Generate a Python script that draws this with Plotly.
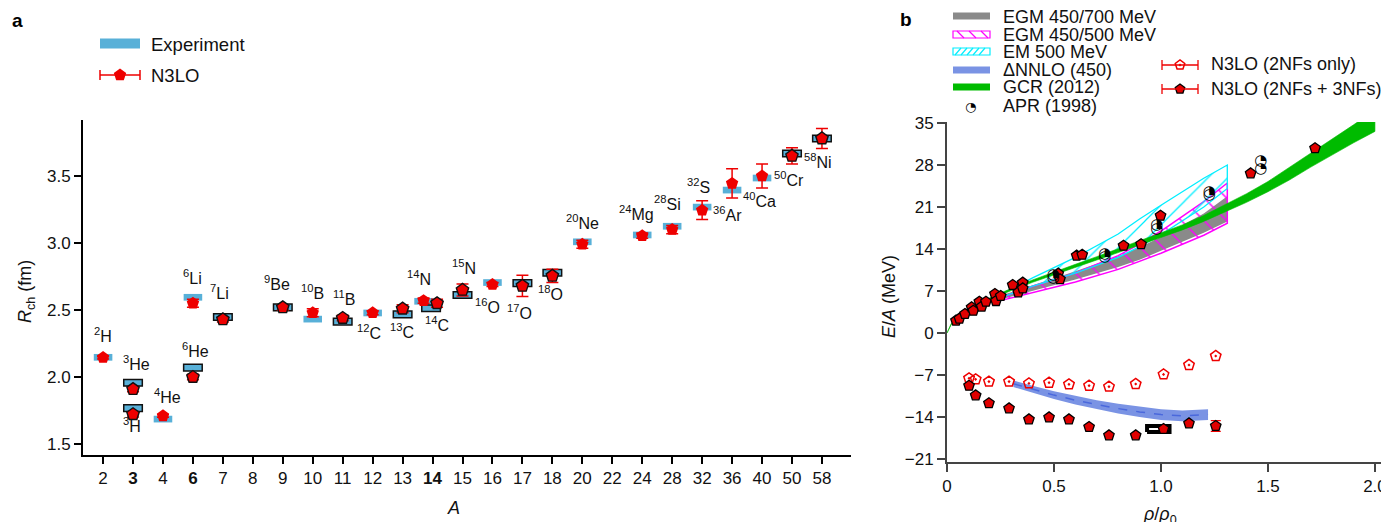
import plotly.graph_objects as go

# viewport size and the page's default body margin (the figure div starts at 8,8)
VW, VH = 1389, 522
OFF = 8
FW, FH = VW - OFF, VH - OFF
FONT = "Liberation Sans, Arial, Helvetica, sans-serif"

# ---------------- Panel a: charge radii ----------------
A_ticks = ["2", "3", "4", "6", "7", "8", "9", "10", "11", "12", "13", "14", "15",
           "16", "17", "18", "20", "22", "24", "28", "32", "36", "40", "50", "58"]
A_bold = ["3", "6", "14"]

nuc_A = ["2", "3", "3", "4", "6", "6", "7", "9", "10", "11", "12", "13", "14", "14",
         "15", "16", "17", "18", "20", "24", "28", "32", "36", "40", "50", "58"]
nuc_sym = ["H", "He", "H", "He", "He", "Li", "Li", "Be", "B", "B", "C", "C", "N", "C",
           "N", "O", "O", "O", "Ne", "Mg", "Si", "S", "Ar", "Ca", "Cr", "Ni"]
exp_radius = [2.147, 1.957, 1.768, 1.686, 2.070, 2.595, 2.448, 2.520, 2.432, 2.414,
              2.478, 2.468, 2.565, 2.513, 2.612, 2.705, 2.700, 2.778, 3.009, 3.060,
              3.125, 3.268, 3.395, 3.485, 3.668, 3.780]
n3lo_radius = [2.145, 1.910, 1.722, 1.710, 2.000, 2.550, 2.430, 2.520, 2.480, 2.440,
               2.480, 2.510, 2.570, 2.550, 2.650, 2.690, 2.680, 2.755, 2.990, 3.055,
               3.100, 3.245, 3.445, 3.500, 3.650, 3.780]
n3lo_err = [0.01, 0.02, 0.02, 0.01, 0.02, 0.03, 0.02, 0.02, 0.03, 0.02, 0.015, 0.03,
            0.02, 0.03, 0.045, 0.015, 0.08, 0.05, 0.03, 0.02, 0.03, 0.07, 0.11, 0.09,
            0.06, 0.075]
# nuclei drawn with a black edge
outlined = [0, 1, 1, 0, 1, 0, 1, 1, 0, 1, 0, 1, 0, 1, 1, 0, 1, 1, 0, 0, 0, 0, 0, 0, 1, 1]
# small horizontal offsets for nuclei sharing A = 14
shift_exp = {"14N": -0.30, "14C": -0.05}
shift_th = {"14N": -0.30, "14C": 0.15}
# label anchor positions (category index, fm)
label_x = [0.0, 1.13, 0.97, 2.14, 3.07, 2.97, 3.90, 5.81, 6.98, 8.04, 8.88, 9.98, 10.55,
           11.15, 12.05, 12.85, 13.89, 14.95, 15.99, 17.82, 18.86, 19.89, 20.86, 21.93,
           22.90, 23.86]
label_y = [2.313, 2.104, 1.642, 1.858, 2.201, 2.746, 2.634, 2.700, 2.634, 2.590, 2.336,
           2.343, 2.739, 2.396, 2.821, 2.530, 2.485, 2.627, 3.157, 3.224, 3.300, 3.425,
           3.216, 3.321, 3.478, 3.612]

# ---------------- Panel b: equation of state ----------------
gcr_rho = [0, 0.02, 0.05, 0.1, 0.2, 0.3, 0.4, 0.5, 0.6, 0.7, 0.8, 0.9, 1.0, 1.1, 1.2,
           1.3, 1.4, 1.5, 1.6, 1.7, 1.8, 1.9, 2.0]
gcr_lo = [0, 1.42, 2.4, 3.73, 5.55, 7.07, 8.45, 9.73, 10.95, 12.17, 13.4, 14.67, 15.93,
          17.18, 18.6, 20.2, 21.78, 23.55, 25.5, 27.65, 29.7, 31.7, 33.6]
gcr_hi = [0, 1.58, 2.6, 3.97, 5.85, 7.43, 8.85, 10.17, 11.45, 12.73, 14.0, 15.33, 16.67,
          18.02, 19.6, 21.4, 23.22, 25.25, 27.5, 29.95, 32.3, 34.7, 37.2]

band_rho = [0.25, 0.4, 0.6, 0.8, 0.9, 1.0, 1.2, 1.31]
egm700_lo = [5.6, 7.0, 8.9, 11.0, 12.2, 13.7, 16.7, 18.6]
egm700_hi = [6.2, 8.0, 10.3, 12.8, 14.3, 16.0, 19.9, 22.8]
egm500_lo = [5.4, 6.7, 8.5, 10.6, 11.9, 13.3, 16.3, 18.3]
egm500_hi = [5.9, 7.8, 10.0, 12.9, 14.8, 17.0, 21.9, 25.0]
em500_lo = [5.9, 7.8, 10.0, 12.6, 14.4, 16.4, 21.0, 24.1]
em500_hi = [6.4, 9.2, 12.6, 16.5, 19.0, 21.3, 25.8, 28.0]

dnnlo_rho = [0.31, 0.4, 0.5, 0.6, 0.7, 0.8, 0.9, 1.0, 1.1, 1.22]
dnnlo_lo = [-9.0, -10.0, -11.0, -11.9, -12.7, -13.4, -14.0, -14.5, -14.7, -14.5]
dnnlo_hi = [-7.9, -8.8, -9.7, -10.5, -11.2, -11.8, -12.3, -12.7, -12.9, -12.7]

apr_rho = [0.497, 0.738, 0.980, 1.226, 1.467]
apr_E_a = [9.10, 12.60, 17.30, 22.90, 27.30]
apr_E_b = [9.55, 13.10, 18.00, 23.40, 28.70]

pnm_rho = [0.042, 0.058, 0.084, 0.115, 0.123, 0.151, 0.162, 0.182, 0.224, 0.229, 0.251,
           0.307, 0.333, 0.354, 0.354, 0.520, 0.528, 0.606, 0.632, 0.825, 0.907, 0.998,
           1.419, 1.720]
pnm_E = [2.06, 2.40, 3.17, 4.28, 3.72, 5.20, 4.39, 5.22, 6.50, 5.33, 6.17, 8.00, 6.78,
         8.39, 7.44, 9.90, 8.96, 12.90, 13.05, 14.55, 14.80, 19.55, 26.60, 30.80]

snm_rho = [0.103, 0.134, 0.196, 0.290, 0.383, 0.477, 0.570, 0.664, 0.757, 0.882, 1.012,
           1.131, 1.256]
snm_E_full = [-8.78, -10.40, -11.70, -12.56, -14.40, -14.06, -14.40, -15.67, -17.06,
              -17.06, -16.00, -15.06, -15.50]
snm_err_full = [0, 0, 0, 0, 0, 0, 0, 0, 0, 0, 0, 0, 0.9]
snm_E_2nf = [-7.56, -7.72, -8.10, -8.10, -8.40, -8.28, -8.56, -8.78, -8.94, -8.50,
             -6.90, -5.33, -3.83]

sat_rho = [0.935, 1.04]
sat_E = [-16.5, -15.5]

# ---------------- helpers (screen pixel -> figure fraction) ----------------
def fx(p):
    return (p - OFF) / FW

def fy(p):
    return 1 - (p - OFF) / FH

# ---------------- build ----------------
fig = go.Figure()

cat_index = {a: i for i, a in enumerate(A_ticks)}
names = [a + s for a, s in zip(nuc_A, nuc_sym)]
x_exp = [cat_index[a] + shift_exp.get(n, 0) for a, n in zip(nuc_A, names)]
x_th = [cat_index[a] + shift_th.get(n, 0) for a, n in zip(nuc_A, names)]

BOX_H = 0.05
BLUE = "#58b0d8"
RED = "#ee0000"

order = sorted(range(len(names)), key=lambda i: outlined[i])
fig.add_trace(go.Bar(
    x=[x_exp[i] for i in order],
    y=[BOX_H] * len(order),
    base=[exp_radius[i] - BOX_H / 2 for i in order],
    width=0.62,
    marker=dict(color=BLUE,
                line=dict(color=["#111111" if outlined[i] else BLUE for i in order],
                          width=[1.5 if outlined[i] else 0 for i in order])),
    xaxis="x", yaxis="y", showlegend=False, name="Experiment"))

fig.add_trace(go.Scatter(
    x=[x_th[i] for i in order], y=[n3lo_radius[i] for i in order],
    mode="markers",
    marker=dict(symbol="pentagon", size=13, color=RED,
                line=dict(color="#111111",
                          width=[1.4 if outlined[i] else 0 for i in order])),
    error_y=dict(type="data", array=[n3lo_err[i] for i in order],
                 color=RED, thickness=1.5, width=6),
    xaxis="x", yaxis="y", showlegend=False, name="N3LO"))

annotations = []
for lx, ly, a, s in zip(label_x, label_y, nuc_A, nuc_sym):
    annotations.append(dict(x=lx, y=ly, xref="x", yref="y", showarrow=False,
                            text=f"<sup>{a}</sup>{s}",
                            font=dict(family=FONT, size=16, color="#111111"),
                            xanchor="center", yanchor="middle"))

# ---- panel b bands
def band(rho, lo, hi):
    return list(rho) + list(rho)[::-1], list(lo) + list(hi)[::-1]

bx, by = band(band_rho, egm700_lo, egm700_hi)
fig.add_trace(go.Scatter(x=bx, y=by, fill="toself", fillcolor="#8a8a8a",
                         line=dict(width=0), mode="lines", xaxis="x2", yaxis="y2",
                         showlegend=False, hoverinfo="skip", name="EGM 450/700 MeV"))
bx, by = band(band_rho, egm500_lo, egm500_hi)
fig.add_trace(go.Scatter(x=bx, y=by, fill="toself", fillcolor="rgba(0,0,0,0)",
                         fillpattern=dict(shape="\\", fgcolor="#ff00ff",
                                          bgcolor="rgba(0,0,0,0)", size=16,
                                          solidity=0.09),
                         line=dict(width=1.5, color="#ff00ff"), mode="lines",
                         xaxis="x2", yaxis="y2", showlegend=False, hoverinfo="skip",
                         name="EGM 450/500 MeV"))
bx, by = band(band_rho, em500_lo, em500_hi)
fig.add_trace(go.Scatter(x=bx, y=by, fill="toself", fillcolor="rgba(0,0,0,0)",
                         fillpattern=dict(shape="/", fgcolor="#00eeff",
                                          bgcolor="rgba(0,0,0,0)", size=14,
                                          solidity=0.09),
                         line=dict(width=1.3, color="#00eeff"), mode="lines",
                         xaxis="x2", yaxis="y2", showlegend=False, hoverinfo="skip",
                         name="EM 500 MeV"))
bx, by = band(gcr_rho, gcr_lo, gcr_hi)
fig.add_trace(go.Scatter(x=bx, y=by, fill="toself", fillcolor="#00bb00",
                         line=dict(width=0.6, color="#00bb00"), mode="lines",
                         xaxis="x2", yaxis="y2", showlegend=False, hoverinfo="skip",
                         name="GCR (2012)"))
bx, by = band(dnnlo_rho, dnnlo_lo, dnnlo_hi)
fig.add_trace(go.Scatter(x=bx, y=by, fill="toself", fillcolor="#7a93e4",
                         line=dict(width=0), mode="lines",
                         xaxis="x2", yaxis="y2", showlegend=False, hoverinfo="skip",
                         name="\u0394NNLO (450)"))
fig.add_trace(go.Scatter(x=dnnlo_rho,
                         y=[(a + b) / 2 for a, b in zip(dnnlo_lo, dnnlo_hi)],
                         mode="lines", line=dict(color="#4a68dc", width=1.5, dash="dash"),
                         xaxis="x2", yaxis="y2", showlegend=False, hoverinfo="skip"))

# saturation box
fig.add_trace(go.Scatter(
    x=[sat_rho[0], sat_rho[1], sat_rho[1], sat_rho[0], sat_rho[0]],
    y=[sat_E[0], sat_E[0], sat_E[1], sat_E[1], sat_E[0]],
    fill="toself", fillcolor="white", mode="lines",
    line=dict(color="black", width=4), xaxis="x2", yaxis="y2",
    showlegend=False, hoverinfo="skip"))

# neutron matter N3LO
fig.add_trace(go.Scatter(x=pnm_rho, y=pnm_E, mode="markers",
                         marker=dict(symbol="pentagon", size=11, color="#e00000",
                                     line=dict(color="black", width=1.3)),
                         xaxis="x2", yaxis="y2", showlegend=False))
# APR
for e in (apr_E_a, apr_E_b):
    fig.add_trace(go.Scatter(x=apr_rho, y=e, mode="text", text=["\u25D4"] * len(apr_rho),
                             textfont=dict(family="DejaVu Sans", size=15, color="black"),
                             textposition="middle center",
                             xaxis="x2", yaxis="y2", showlegend=False, name="APR (1998)"))
# symmetric matter
fig.add_trace(go.Scatter(x=snm_rho, y=snm_E_2nf, mode="markers",
                         marker=dict(symbol="pentagon-open-dot", size=11, color="#ee0000",
                                     line=dict(width=1.5)),
                         xaxis="x2", yaxis="y2", showlegend=False,
                         name="N3LO (2NFs only)"))
fig.add_trace(go.Scatter(x=snm_rho, y=snm_E_full, mode="markers",
                         marker=dict(symbol="pentagon", size=11, color="#e00000",
                                     line=dict(color="black", width=1.3)),
                         error_y=dict(type="data", array=snm_err_full, color="#ee0000",
                                      thickness=1.3, width=5),
                         xaxis="x2", yaxis="y2", showlegend=False,
                         name="N3LO (2NFs + 3NFs)"))

# ---- legend glyphs (screen-pixel overlay axis)
shapes = []

def rect(x0, y0, x1, y1, fill, line_color=None, lw=0):
    shapes.append(dict(type="rect", xref="x3", yref="y3", x0=x0, y0=y0, x1=x1, y1=y1,
                       fillcolor=fill, line=dict(color=line_color or fill, width=lw)))

def seg(x0, y0, x1, y1, color, lw=1.3):
    shapes.append(dict(type="line", xref="x3", yref="y3", x0=x0, y0=y0, x1=x1, y1=y1,
                       line=dict(color=color, width=lw)))

def label(x, y, text, size=18, **kw):
    d = dict(x=x, y=y, xref="x3", yref="y3", showarrow=False, text=text,
             font=dict(family=FONT, size=size, color="#111111"),
             xanchor="left", yanchor="middle", borderpad=0)
    d.update(kw)
    annotations.append(d)

# panel a legend
rect(100, 38.5, 140, 48.5, BLUE)
label(150, 44, "Experiment", size=18.5)
seg(100, 75, 140, 75, RED, 1.5)
seg(100, 70, 100, 80, RED, 1.5)
seg(140, 70, 140, 80, RED, 1.5)
label(150, 75, "N3LO", size=18.5)

# panel b legend
rect(953, 12.5, 990, 19.5, "#8a8a8a")
label(1002, 17, "EGM 450/700 MeV")
rect(953, 31, 990, 38, "rgba(0,0,0,0)", "#ff00ff", 1.2)
for xx in (957, 969, 981):
    seg(xx, 31, xx + 7, 38, "#ff00ff", 1.2)
label(1002, 34.5, "EGM 450/500 MeV")
rect(953, 48, 990, 55, "rgba(0,0,0,0)", "#00eeff", 1.2)
for xx in (955, 961, 967, 973, 979):
    seg(xx, 55, xx + 6, 48, "#00eeff", 1.2)
label(1002, 52, "EM 500 MeV")
rect(953, 66.5, 990, 73.5, "#7a93e4")
label(1002, 70, "\u0394NNLO (450)")
rect(953, 83.5, 990, 90.5, "#00bb00")
label(1002, 87, "GCR (2012)")
label(1002, 106, "APR (1998)")
annotations.append(dict(x=970, y=106, xref="x3", yref="y3", showarrow=False,
                        text="\u25D4", font=dict(family="DejaVu Sans", size=13,
                                                  color="black"),
                        xanchor="center", yanchor="middle"))
for yy in (65, 89):
    seg(1162, yy, 1198, yy, RED, 1.3)
    seg(1162, yy - 5, 1162, yy + 5, RED, 1.3)
    seg(1198, yy - 5, 1198, yy + 5, RED, 1.3)
label(1210, 64, "N3LO (2NFs only)")
label(1210, 89, "N3LO (2NFs + 3NFs)")

fig.add_trace(go.Scatter(x=[120], y=[75], mode="markers",
                         marker=dict(symbol="pentagon", size=13, color=RED),
                         xaxis="x3", yaxis="y3", showlegend=False, hoverinfo="skip"))
fig.add_trace(go.Scatter(x=[1180], y=[65], mode="markers",
                         marker=dict(symbol="pentagon-open-dot", size=10, color=RED,
                                     line=dict(width=1.5)),
                         xaxis="x3", yaxis="y3", showlegend=False, hoverinfo="skip"))
fig.add_trace(go.Scatter(x=[1180], y=[89], mode="markers",
                         marker=dict(symbol="pentagon", size=10, color="#e00000",
                                     line=dict(color="black", width=1.3)),
                         xaxis="x3", yaxis="y3", showlegend=False, hoverinfo="skip"))

# axis titles & panel letters
annotations += [
    dict(x=26, y=292, xref="x3", yref="y3", showarrow=False, textangle=-90,
         text="<i>R</i><sub>ch</sub> (fm)", font=dict(family=FONT, size=18, color="#111")),
    dict(x=453, y=508, xref="x3", yref="y3", showarrow=False,
         text="<i>A</i>", font=dict(family=FONT, size=18, color="#111")),
    dict(x=889, y=297, xref="x3", yref="y3", showarrow=False, textangle=-90,
         text="<i>E</i>/<i>A</i> (MeV)", font=dict(family=FONT, size=18, color="#111")),
    dict(x=1160, y=502, xref="x3", yref="y3", showarrow=False, yanchor="top",
         text="<i>\u03c1</i>/<i>\u03c1</i><sub>0</sub>",
         font=dict(family=FONT, size=18, color="#111")),
    dict(x=17, y=20, xref="x3", yref="y3", showarrow=False,
         text="<b>a</b>", font=dict(family=FONT, size=19, color="black")),
    dict(x=906, y=19, xref="x3", yref="y3", showarrow=False,
         text="<b>b</b>", font=dict(family=FONT, size=19, color="black")),
]

tickfont = dict(family=FONT, size=17, color="#111111")
e_ticks = [-21, -14, -7, 0, 7, 14, 21, 28, 35]

fig.update_layout(
    width=FW, height=FH, margin=dict(l=0, r=0, t=0, b=0),
    paper_bgcolor="white", plot_bgcolor="rgba(0,0,0,0)",
    template="none", barmode="overlay", showlegend=False,
    font=dict(family=FONT),
    xaxis=dict(domain=[fx(83), fx(851)], anchor="y", range=[-0.67, 24.97],
               tickmode="array", tickvals=list(range(len(A_ticks))),
               ticktext=[f"<b>{a}</b>" if a in A_bold else a for a in A_ticks],
               ticks="outside", ticklen=7, tickwidth=1.5, tickcolor="black",
               showline=True, linecolor="black", linewidth=2, showgrid=False,
               zeroline=False, tickfont=tickfont, automargin=False),
    yaxis=dict(domain=[fy(455), fy(120)], anchor="x", range=[1.418, 3.918],
               tickmode="array", tickvals=[1.5, 2.0, 2.5, 3.0, 3.5],
               ticktext=["1.5", "2.0", "2.5", "3.0", "3.5"],
               ticks="outside", ticklen=7, tickwidth=1.5, tickcolor="black",
               showline=True, linecolor="black", linewidth=2, showgrid=False,
               zeroline=False, tickfont=tickfont, automargin=False),
    xaxis2=dict(domain=[fx(947), fx(1385)], anchor="y2", range=[0, 2.047],
                tickmode="array", tickvals=[0, 0.5, 1.0, 1.5, 2.0],
                ticktext=["0", "0.5", "1.0", "1.5", "2.0"],
                ticks="outside", ticklen=8, tickwidth=1.5, tickcolor="#444",
                showline=True, linecolor="#444", linewidth=2, showgrid=False,
                zeroline=False, tickfont=tickfont, automargin=False),
    yaxis2=dict(domain=[fy(462), fy(122)], anchor="x2", range=[-21.5, 35.17],
                tickmode="array", tickvals=e_ticks,
                ticktext=[str(t).replace("-", "\u2212") for t in e_ticks],
                ticks="outside", ticklen=8, tickwidth=1.5, tickcolor="#444",
                showline=True, linecolor="#444", linewidth=2, showgrid=False,
                zeroline=False, tickfont=tickfont, automargin=False),
    xaxis3=dict(domain=[0, 1], anchor="y3", range=[OFF, VW], visible=False,
                fixedrange=True),
    yaxis3=dict(domain=[0, 1], anchor="x3", range=[VH, OFF], visible=False,
                fixedrange=True),
    shapes=shapes, annotations=annotations,
)

fig.write_html("out.html")
